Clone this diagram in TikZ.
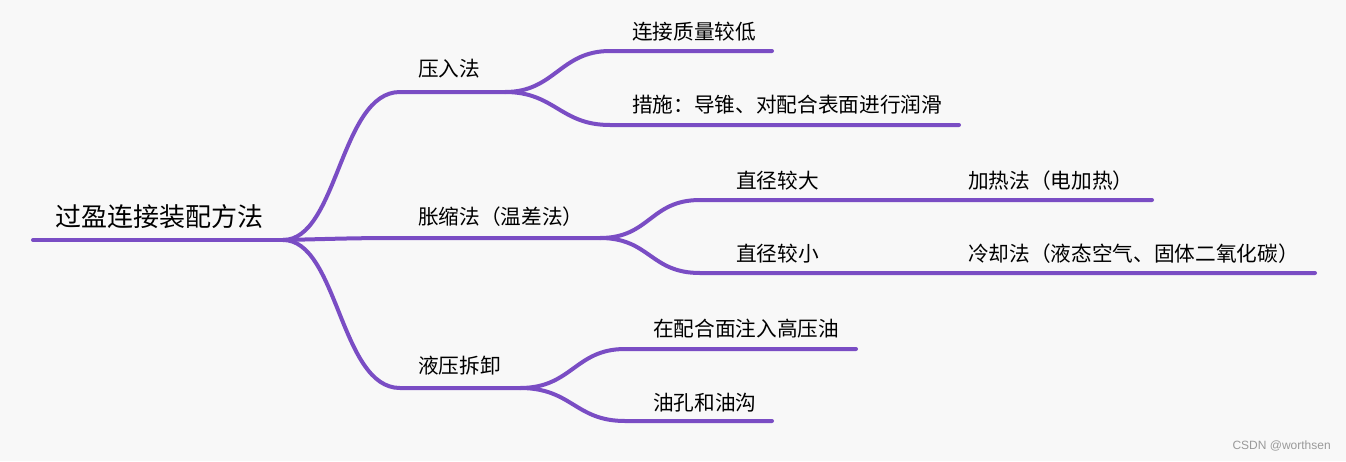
\documentclass[tikz,border=0pt]{standalone}
\usepackage{fontspec}
\setmainfont{Liberation Sans}
\newfontfamily\cjk{Noto Sans CJK SC}
\definecolor{branch}{HTML}{7A4DC4}
\definecolor{bg}{HTML}{F8F8F8}
\definecolor{wm}{HTML}{9A9A9A}
\begin{document}
\begin{tikzpicture}[x=0.75pt,y=-0.75pt,
  conn/.style={draw=branch,line width=3pt,line cap=round},
  lbl/.style={anchor=west,inner sep=0pt,font=\cjk\fontsize{15.5}{18}\selectfont,text=black},
  rootlbl/.style={anchor=west,inner sep=0pt,font=\cjk\fontsize{19.5}{22}\selectfont,text=black}]
\fill[bg] (0,0) rectangle (1346,461);
\useasboundingbox (0,0) rectangle (1346,461);
% coordinates
\coordinate (r0) at (33,240);
\coordinate (rj) at (283,240);
\coordinate (b1a) at (400,92);
\coordinate (b1j) at (505,92);
\coordinate (c11a) at (610,51);
\coordinate (c11e) at (772,51);
\coordinate (c12a) at (610,125);
\coordinate (c12e) at (959,125);
\coordinate (b2a) at (400,238);
\coordinate (b2j) at (600,238);
\coordinate (c21a) at (700,200);
\coordinate (c21m) at (955,200);
\coordinate (c21e) at (1152,200);
\coordinate (c22a) at (700,273);
\coordinate (c22m) at (955,273);
\coordinate (c22e) at (1315,273);
\coordinate (b3a) at (400,388);
\coordinate (b3j) at (520,388);
\coordinate (c31a) at (625,349);
\coordinate (c31e) at (856,349);
\coordinate (c32a) at (625,421);
\coordinate (c32e) at (772,421);
% labels
\node[rootlbl] (root) at (55,217) {过盈连接装配方法};
\node[lbl] (b1) at (418,69) {压入法};
\node[lbl] (c11) at (632,32) {连接质量较低};
\node[lbl] (c12) at (632,105) {措施：导锥、对配合表面进行润滑};
\node[lbl] (b2) at (418,217) {胀缩法（温差法）};
\node[lbl] (c21) at (736,181) {直径较大};
\node[lbl] (c211) at (968,181) {加热法（电加热）};
\node[lbl] (c22) at (736,254) {直径较小};
\node[lbl] (c221) at (968,254) {冷却法（液态空气、固体二氧化碳）};
\node[lbl] (b3) at (418,366) {液压拆卸};
\node[lbl] (c31) at (653,329) {在配合面注入高压油};
\node[lbl] (c32) at (653,403) {油孔和油沟};
\node[anchor=east,inner sep=0pt,font=\fontsize{9}{10}\selectfont,text=wm] (wmk) at (1331,446) {CSDN @worthsen};
% connectors
\draw[conn] (r0) -- (rj);
\draw[conn] (rj) .. controls (338,240) and (340,92) .. (b1a) -- (b1j);
\draw[conn] (rj) .. controls (330,239) and (350,238) .. (b2a) -- (b2j);
\draw[conn] (rj) .. controls (338,240) and (340,388) .. (b3a) -- (b3j);
\draw[conn] (b1j) .. controls (555,92) and (560,51) .. (c11a) -- (c11e);
\draw[conn] (b1j) .. controls (555,92) and (560,125) .. (c12a) -- (c12e);
\draw[conn] (b2j) .. controls (650,238) and (650,200) .. (c21a) -- (c21m) -- (c21e);
\draw[conn] (b2j) .. controls (650,238) and (650,273) .. (c22a) -- (c22m) -- (c22e);
\draw[conn] (b3j) .. controls (572,388) and (575,349) .. (c31a) -- (c31e);
\draw[conn] (b3j) .. controls (572,388) and (575,421) .. (c32a) -- (c32e);
\end{tikzpicture}
\end{document}
